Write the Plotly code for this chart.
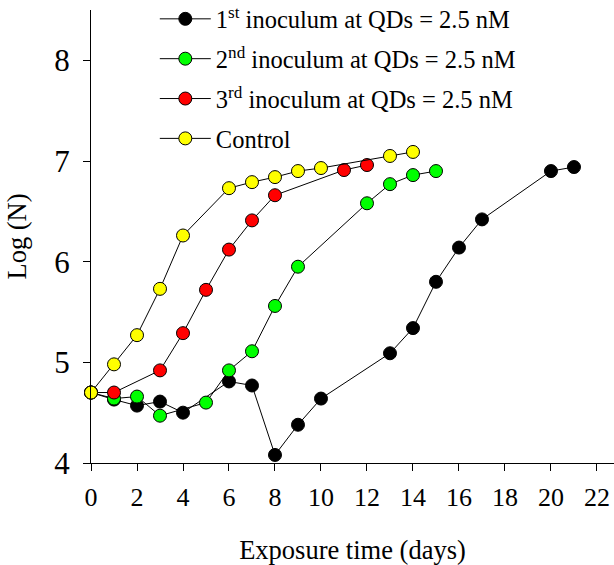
import plotly.graph_objects as go

# Data
x_first = [0, 1, 2, 3, 4, 6, 7, 8, 9, 10, 13, 14, 15, 16, 17, 20, 21]
y_first = [4.70, 4.63, 4.57, 4.61, 4.50, 4.81, 4.77, 4.08, 4.38, 4.64, 5.09, 5.34, 5.80, 6.14, 6.42, 6.90, 6.94]

x_second = [0, 1, 2, 3, 5, 6, 7, 8, 9, 12, 13, 14, 15]
y_second = [4.70, 4.64, 4.66, 4.47, 4.60, 4.92, 5.11, 5.56, 5.95, 6.58, 6.77, 6.86, 6.90]

x_third = [0, 1, 3, 4, 5, 6, 7, 8, 11, 12]
y_third = [4.70, 4.70, 4.92, 5.29, 5.72, 6.12, 6.41, 6.66, 6.91, 6.96]

x_control = [0, 1, 2, 3, 4, 6, 7, 8, 9, 10, 13, 14]
y_control = [4.70, 4.98, 5.27, 5.73, 6.26, 6.73, 6.79, 6.84, 6.90, 6.93, 7.05, 7.09]

names = [
    "1<sup>st</sup> inoculum at QDs = 2.5 nM",
    "2<sup>nd</sup> inoculum at QDs = 2.5 nM",
    "3<sup>rd</sup> inoculum at QDs = 2.5 nM",
    "Control",
]
colors = ["#000000", "#00ff00", "#ff0000", "#ffff00"]
xs = [x_first, x_second, x_third, x_control]
ys = [y_first, y_second, y_third, y_control]

x_ticks = list(range(0, 23, 2))
y_ticks = [4, 5, 6, 7, 8]

FONT = '"Liberation Serif", "Times New Roman", serif'

fig = go.Figure()
for i, (xv, yv, nm, c) in enumerate(zip(xs, ys, names, colors)):
    fig.add_trace(go.Scatter(
        x=xv, y=yv, name=nm, mode="lines+markers",
        line=dict(color="black", width=1),
        marker=dict(size=13, color=c, line=dict(color="black", width=1)),
        cliponaxis=False,
        legendgroup=f"g{i}",
    ))

fig.update_layout(
    width=614, height=565,
    margin=dict(l=91, r=0, t=10, b=102, autoexpand=False),
    paper_bgcolor="white", plot_bgcolor="white",
    font=dict(family=FONT, color="black"),
    showlegend=True,
    legend=dict(
        x=0.122, y=1.03, xanchor="left", yanchor="top",
        bgcolor="rgba(0,0,0,0)", borderwidth=0,
        font=dict(family=FONT, size=24.5, color="black"),
        tracegroupgap=5, traceorder="grouped", itemwidth=51,
    ),
    xaxis=dict(
        range=[0, 22.74], tickvals=x_ticks, ticktext=[str(v) for v in x_ticks],
        showline=True, linecolor="black", linewidth=1,
        ticks="outside", ticklen=7, tickcolor="black", tickwidth=1,
        showgrid=False, zeroline=False, automargin=False,
        tickfont=dict(family=FONT, size=26), ticklabelstandoff=4,
        title=dict(text="Exposure time (days)", font=dict(family=FONT, size=26.5), standoff=48),
    ),
    yaxis=dict(
        range=[4, 8.5], tickvals=y_ticks, ticktext=[str(v) for v in y_ticks],
        showline=True, linecolor="black", linewidth=1,
        ticks="outside", ticklen=7, tickcolor="black", tickwidth=1,
        showgrid=False, zeroline=False, automargin=False,
        tickfont=dict(family=FONT, size=31), ticklabelstandoff=7,
        title=dict(text="Log (N)", font=dict(family=FONT, size=26.5), standoff=20),
    ),
)

fig.write_html(
    "out.html",
    config={"displayModeBar": False},
    post_script="document.body.style.margin='0';document.body.style.padding='0';",
)
